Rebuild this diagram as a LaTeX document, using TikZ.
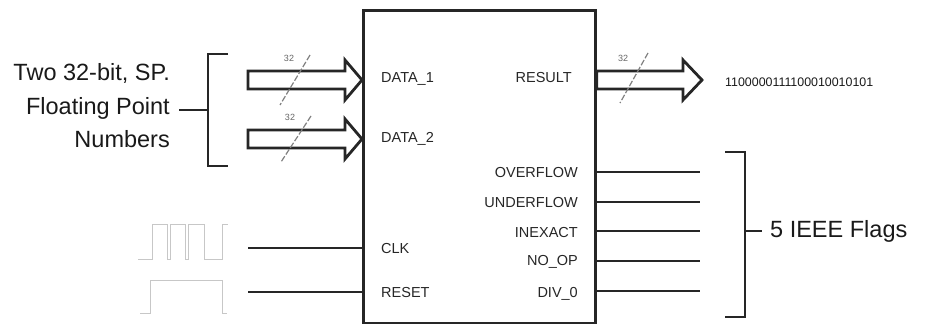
\documentclass[tikz,border=0pt]{standalone}
\usepackage{fontspec}
\setmainfont{Liberation Sans}
\begin{document}
\begin{tikzpicture}[x=1pt,y=-1pt,
  wire/.style={line width=2pt,draw=black!85},
  bus/.style={line width=2.8pt,draw=black!85,line join=miter},
  slash/.style={draw=black!50,line width=1.2pt,dash pattern=on 6pt off 2pt},
  buslabel/.style={font=\fontsize{9}{9}\selectfont,text=black!60,inner sep=0pt},
  pin/.style={font=\fontsize{14.5}{15}\selectfont,text=black!85,inner sep=0pt},
  biglabel/.style={font=\fontsize{23.5}{33.5}\selectfont,text=black!90,inner sep=0pt},
  bits/.style={font=\fontsize{12.4}{12}\selectfont,text=black!90,inner sep=0pt},
  wave/.style={draw=black!22,line width=1pt},
  brace/.style={line width=2pt,draw=black!85}]
\useasboundingbox (0,0) rectangle (940,324);
% core block
\node[draw=black!85,line width=2.8pt,minimum width=232pt,minimum height=313pt,
      inner sep=0pt,anchor=north west] (core) at (362,9) {};
% pin labels
\node[pin,anchor=base west] (d1) at (381,82) {DATA\_1};
\node[pin,anchor=base west] (d2) at (381,142) {DATA\_2};
\node[pin,anchor=base west] (clk) at (381,253) {CLK};
\node[pin,anchor=base west] (rst) at (381,297) {RESET};
\node[pin,anchor=base east] (res) at (572,82) {RESULT};
\node[pin,anchor=base east] (ovf) at (578,177) {OVERFLOW};
\node[pin,anchor=base east] (unf) at (578,207) {UNDERFLOW};
\node[pin,anchor=base east] (inx) at (578,237) {INEXACT};
\node[pin,anchor=base east] (nop) at (578,265) {NO\_OP};
\node[pin,anchor=base east] (dvz) at (578,297) {DIV\_0};
% input buses
\coordinate (in1) at (core.west |- 0,80);
\coordinate (in2) at (core.west |- 0,139);
\draw[bus] (in1) -- ++(-17,-20) -- ++(0,11) -- ++(-97,0) -- ++(0,18) -- ++(97,0) -- ++(0,11) -- cycle;
\draw[bus] (in2) -- ++(-17,-20) -- ++(0,11) -- ++(-97,0) -- ++(0,18) -- ++(97,0) -- ++(0,11) -- cycle;
% output bus
\coordinate (out1) at (702,80);
\draw[bus] (out1) -- ++(-19,-20) -- ++(0,11) -- (core.east |- 0,71) -- (core.east |- 0,89) -- (683,89) -- ++(0,11) -- cycle;
% bus width marks
\draw[slash] (310,55) -- (280,105);
\node[buslabel] (w1) at (289,58) {32};
\draw[slash] (311,116) -- (281,162);
\node[buslabel] (w2) at (290,117) {32};
\draw[slash] (648,53) -- (620,103);
\node[buslabel] (w3) at (623,58) {32};
\node[bits,anchor=west] (val) at (725,82) {1100000111100010010101};
% flag outputs
\foreach \n/\y in {o1/172,o2/202,o3/231,o4/261,o5/291}{
  \coordinate (\n) at (700,\y);
  \draw[wire] (core.east |- \n) -- (\n);
}
% clock and reset inputs
\coordinate (ck) at (248,248);
\coordinate (rs) at (248,292);
\draw[wire] (ck) -- (core.west |- ck);
\draw[wire] (rs) -- (core.west |- rs);
\draw[wave] (138,259) -- (152,259) -- (152,224) -- (167,224) -- (167,259) -- (170,259)
  -- (170,224) -- (185,224) -- (185,259) -- (188,259) -- (188,224) -- (204,224)
  -- (204,259) -- (222,259) -- (222,224) -- (228,224);
\draw[wave] (140,313) -- (150,313) -- (150,280) -- (222,280) -- (222,313) -- (227,313);
% left brace and label
\node[biglabel,align=right,anchor=east] (nums) at (170,106) {Two 32-bit, SP.\\Floating Point\\Numbers};
\coordinate (lb) at (208,110);
\draw[brace] (228,54) -- (208,54) -- (208,166) -- (228,166);
\draw[brace] (lb) -- ([xshift=9pt]nums.east |- lb);
% right brace and label
\node[biglabel,anchor=west] (flags) at (770,231) {5 IEEE Flags};
\coordinate (rb) at (745,231);
\draw[brace] (725,152) -- (745,152) -- (745,317) -- (725,317);
\draw[brace] (rb) -- ([xshift=-8pt]flags.west);
\end{tikzpicture}
\end{document}
